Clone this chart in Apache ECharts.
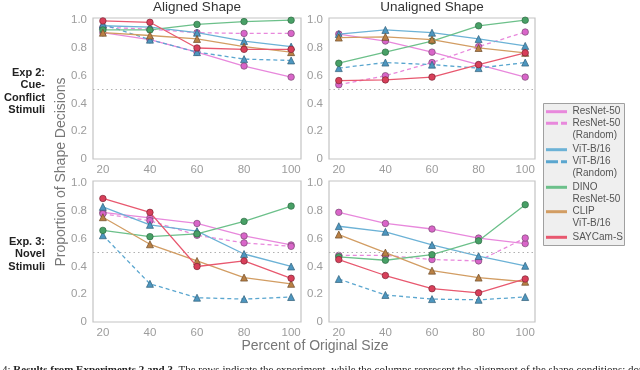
<!DOCTYPE html>
<html>
<head>
<meta charset="utf-8">
<script src="https://cdn.jsdelivr.net/npm/echarts@6/dist/echarts.min.js"></script>
<style>
html,body{margin:0;padding:0;background:#fff;}
#chart{width:640px;height:370px;}
</style>
</head>
<body>
<div id="chart"></div>
<script>
// ---- data ----
const xValues = [20, 40, 60, 80, 100];
const xTickLabels = [20, 40, 60, 80, 100];
const yTickLabels = [0, 0.2, 0.4, 0.6, 0.8, 1.0];
const seriesNames = ["ResNet-50", "ResNet-50 (Random)", "ViT-B/16", "ViT-B/16 (Random)", "DINO ResNet-50", "CLIP ViT-B/16", "SAYCam-S"];
const legendLabels = ["ResNet-50", "ResNet-50\n(Random)", "ViT-B/16", "ViT-B/16\n(Random)", "DINO\nResNet-50", "CLIP\nViT-B/16", "SAYCam-S"];
const columnTitles = ["Aligned Shape", "Unaligned Shape"];
const rowLabels = ["Exp 2:\nCue-\nConflict\nStimuli", "Exp. 3:\nNovel\nStimuli"];
const chanceLevel = 0.5;

// rows follow seriesNames order
const exp2Aligned = [
  [0.91, 0.86, 0.77, 0.67, 0.59],
  [0.95, 0.935, 0.91, 0.905, 0.905],
  [0.96, 0.95, 0.91, 0.85, 0.81],
  [0.97, 0.86, 0.77, 0.72, 0.71],
  [0.93, 0.93, 0.97, 0.99, 1.0],
  [0.91, 0.89, 0.865, 0.81, 0.77],
  [0.995, 0.985, 0.80, 0.79, 0.79]
];
const exp2Unaligned = [
  [0.90, 0.85, 0.77, 0.68, 0.59],
  [0.535, 0.60, 0.695, 0.81, 0.915],
  [0.90, 0.93, 0.91, 0.865, 0.815],
  [0.655, 0.695, 0.68, 0.655, 0.695],
  [0.69, 0.77, 0.85, 0.96, 1.0],
  [0.875, 0.88, 0.86, 0.80, 0.765],
  [0.565, 0.57, 0.59, 0.68, 0.765]
];
const exp3Aligned = [
  [0.79, 0.75, 0.71, 0.62, 0.555],
  [0.78, 0.73, 0.625, 0.57, 0.545],
  [0.83, 0.70, 0.655, 0.49, 0.40],
  [0.625, 0.275, 0.175, 0.165, 0.18],
  [0.66, 0.615, 0.635, 0.725, 0.835],
  [0.755, 0.56, 0.44, 0.32, 0.275],
  [0.89, 0.79, 0.40, 0.44, 0.315]
];
const exp3Unaligned = [
  [0.79, 0.71, 0.67, 0.605, 0.565],
  [0.48, 0.48, 0.45, 0.44, 0.605],
  [0.69, 0.65, 0.555, 0.475, 0.405],
  [0.31, 0.195, 0.165, 0.16, 0.18],
  [0.47, 0.445, 0.485, 0.585, 0.845],
  [0.63, 0.50, 0.37, 0.32, 0.29],
  [0.45, 0.335, 0.24, 0.21, 0.31]
];

// ---- styles ----
const lineColors = ["#e888dc", "#e888dc", "#6cb2d6", "#5aa6cf", "#6cc08a", "#d29d63", "#e8586f"];
const markerColors = ["#d965c9", "#d965c9", "#4d96bf", "#4d96bf", "#48a066", "#b98044", "#d83f5a"];
const markerBorders = ["#7a4a72", "#7a4a72", "#2f5f78", "#2f5f78", "#2e6a44", "#6e4c2a", "#7e2535"];
const symbols = ["circle", "circle", "triangle", "triangle", "circle", "triangle", "circle"];
const dashed = [false, true, false, true, false, false, false];

const FONT = "'Liberation Sans Narrow', 'Liberation Sans', Arial, sans-serif";
const grids = [
  {left: 93, top: 18, width: 208, height: 141},
  {left: 329, top: 18, width: 206, height: 141},
  {left: 93, top: 181, width: 208, height: 141},
  {left: 329, top: 181, width: 206, height: 141}
];
const panelData = [exp2Aligned, exp2Unaligned, exp3Aligned, exp3Unaligned];

const xAxes = [], yAxes = [], series = [];
grids.forEach((g, p) => {
  xAxes.push({
    type: 'value', gridIndex: p, min: 15.8, max: 104.2,
    axisLine: {show: false}, axisTick: {show: false}, splitLine: {show: false},
    axisLabel: {customValues: xTickLabels, color: '#9c9c9c', fontSize: 11.5, fontFamily: FONT, margin: 5}
  });
  yAxes.push({
    type: 'value', gridIndex: p, min: 0, max: 1.016,
    axisLine: {show: false}, axisTick: {show: false}, splitLine: {show: false},
    axisLabel: {customValues: yTickLabels, color: '#9c9c9c', fontSize: 11.5, fontFamily: FONT, margin: 6,
      formatter: v => v === 0 ? '0' : v.toFixed(1)}
  });
  panelData[p].forEach((vals, i) => {
    const s = {
      type: 'line', name: seriesNames[i], xAxisIndex: p, yAxisIndex: p,
      data: xValues.map((x, j) => [x, vals[j]]),
      symbol: symbols[i], symbolSize: symbols[i] === 'triangle' ? 7 : 6.5,
      showSymbol: true, silent: true, z: 2 + i,
      lineStyle: {color: lineColors[i], width: 1.3, type: dashed[i] ? [4, 3] : 'solid'},
      itemStyle: {color: markerColors[i], borderColor: markerBorders[i], borderWidth: 0.7}
    };
    if (i === 0) {
      s.markLine = {
        silent: true, symbol: ['none', 'none'], label: {show: false},
        lineStyle: {color: '#b0b0b0', type: [1.5, 3], width: 1},
        data: [{yAxis: chanceLevel}], animation: false
      };
    }
    series.push(s);
  });
});

// ---- graphic texts & legend ----
const graphic = [];
columnTitles.forEach((t, c) => {
  const g = grids[c];
  graphic.push({type: 'text', x: g.left + g.width / 2, y: 7,
    style: {text: t, fill: '#333', font: "13.5px " + FONT, textAlign: 'center', textVerticalAlign: 'middle'}});
});
rowLabels.forEach((t, r) => {
  graphic.push({type: 'text', x: 45, y: r === 0 ? 67 : 236,
    style: {text: t, fill: '#222', font: "bold 11px 'Liberation Sans', Arial, sans-serif", textAlign: 'right', textVerticalAlign: 'top', lineHeight: 12.3}});
});
graphic.push({type: 'text', x: 61, y: 172, rotation: Math.PI / 2,
  style: {text: 'Proportion of Shape Decisions', fill: '#777', font: "14px " + FONT, textAlign: 'center', textVerticalAlign: 'middle'}});
graphic.push({type: 'text', x: 315, y: 346,
  style: {text: 'Percent of Original Size', fill: '#777', font: "14px " + FONT, textAlign: 'center', textVerticalAlign: 'middle'}});

// legend box
graphic.push({type: 'rect', shape: {x: 543.5, y: 103.5, width: 81, height: 142},
  style: {fill: '#efefef', stroke: '#a0a0a0', lineWidth: 1}});
const legendY = [111.7, 123.3, 149.7, 161.7, 187.3, 211.7, 237.3];
seriesNames.forEach((n, i) => {
  graphic.push({type: 'line', shape: {x1: 546, y1: legendY[i], x2: 567, y2: legendY[i]},
    style: {stroke: lineColors[i], lineWidth: 3, lineDash: dashed[i] ? [12, 3, 6, 3] : null}});
  graphic.push({type: 'text', x: 572.5, y: legendY[i] - 6,
    style: {text: legendLabels[i], fill: '#555', font: "10px " + FONT, textAlign: 'left', textVerticalAlign: 'top', lineHeight: 11.7}});
});

// caption (cut off at bottom)
graphic.push({type: 'text', x: 2, y: 365,
  style: {text: '{a|4: }{b|Results from Experiments 2 and 3.}{a| The rows indicate the experiment, while the columns represent the alignment of the shape conditions; dotted lines mark chance}',
    rich: {a: {font: "11px 'Liberation Serif', serif", fill: '#222'}, b: {font: "bold 11px 'Liberation Serif', serif", fill: '#222'}},
    textVerticalAlign: 'top'}});

const chart = echarts.init(document.getElementById('chart'), null, {renderer: 'canvas'});
chart.setOption({
  animation: false,
  backgroundColor: '#fff',
  grid: grids.map(g => Object.assign({show: true, borderColor: '#c4c4c4', borderWidth: 1.2, backgroundColor: 'transparent'}, g)),
  xAxis: xAxes,
  yAxis: yAxes,
  series: series,
  graphic: graphic
});
</script>
</body>
</html>
